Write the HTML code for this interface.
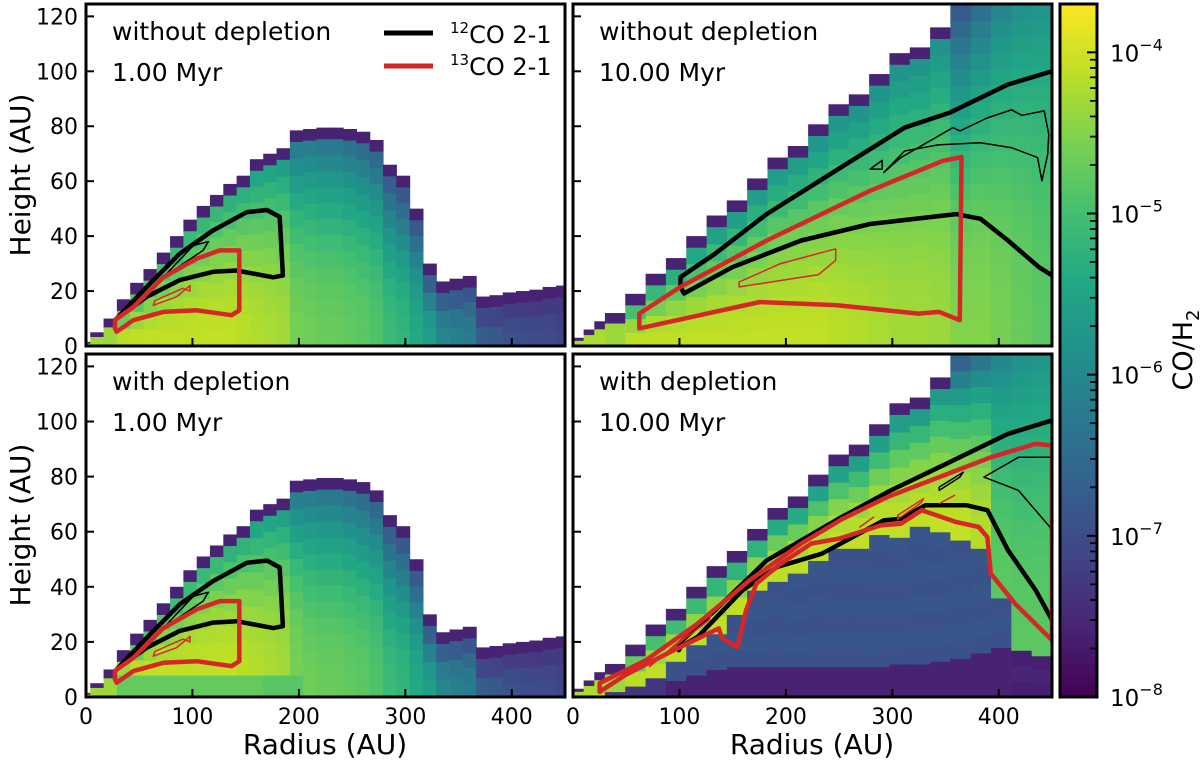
<!DOCTYPE html>
<html>
<head>
<meta charset="utf-8">
<style>
  html,body{margin:0;padding:0;background:#fff;}
  body{width:1200px;height:760px;overflow:hidden;font-family:"DejaVu Sans","Liberation Sans",sans-serif;}
  svg text{font-family:"DejaVu Sans","Liberation Sans",sans-serif;fill:#000;}
</style>
</head>
<body>
<svg id="fig" xmlns="http://www.w3.org/2000/svg" width="1200" height="760" viewBox="0 0 1200 760">
  <defs>
    <linearGradient id="viridis" x1="0" y1="1" x2="0" y2="0">
      <stop offset="0" stop-color="#440154"/>
      <stop offset="0.1" stop-color="#482475"/>
      <stop offset="0.2" stop-color="#414487"/>
      <stop offset="0.3" stop-color="#355f8d"/>
      <stop offset="0.4" stop-color="#2a788e"/>
      <stop offset="0.5" stop-color="#21918c"/>
      <stop offset="0.6" stop-color="#22a884"/>
      <stop offset="0.7" stop-color="#44bf70"/>
      <stop offset="0.8" stop-color="#7ad151"/>
      <stop offset="0.9" stop-color="#bddf26"/>
      <stop offset="1" stop-color="#fde725"/>
    </linearGradient>
  </defs>
</svg>
<script>
// ---------- data: 1 Myr grid (panels A & C) ----------
const radiusEdges1Myr = [0,4,16.5,29,41.5,54,66.5,79,91.5,104,116.5,129,141.5,154,166.5,179,191.5,204,216.5,229,241.5,254,266.5,279,291.5,304,316.5,329,341.5,354,366.5,379,391.5,404,416.5,429,441.5,450];
const columnTops1Myr = [1.5,5,10,17,23,28,34,40,46,51,55,59,62,68,70,72,78.5,79,79.5,79.5,79,78,75,66,62,50,30,23.5,24.5,25.5,18,18.5,19.5,20,20.5,21.5,22];
const midplaneLog1Myr = [-4.1,-4.1,-4.1,-4.1,-4.1,-4.1,-4.1,-4.1,-4.1,-4.1,-4.1,-4.1,-4.15,-4.2,-4.25,-4.3,-4.6,-4.65,-4.7,-4.7,-4.75,-4.8,-4.9,-5.1,-5.2,-5.4,-5.6,-6.0,-6.1,-6.2,-6.7,-6.8,-6.9,-6.95,-7.0,-7.0,-7.1];
const surfaceLog1Myr = [-5.2,-5.2,-5.2,-5.2,-5.2,-5.2,-5.2,-5.3,-5.3,-5.3,-5.3,-5.4,-5.4,-5.6,-5.6,-5.7,-6.3,-6.3,-6.4,-6.4,-6.5,-6.6,-6.7,-6.9,-7.0,-7.0,-7.0,-7.0,-7.1,-7.1,-7.4,-7.4,-7.4,-7.4,-7.4,-7.4,-7.4];
const lowHeight1MyrDepl = [0,0,0,8,8,8,8,8,8,8,8,8,8,8,8,8,8,0,0,0,0,0,0,0,0,0,0,0,0,0,0,0,0,0,0,0,0];
const lowLog1MyrDepl = [0,0,0,-4.7,-4.7,-4.7,-4.7,-4.7,-4.7,-4.7,-4.7,-4.7,-4.7,-4.7,-4.8,-4.8,-4.8,0,0,0,0,0,0,0,0,0,0,0,0,0,0,0,0,0,0,0,0];

// ---------- data: 10 Myr grid (panels B & D) ----------
const radiusEdges10Myr = [0,10,20,30,49.1,68.2,87.3,106.4,125.5,144.5,163.6,182.7,201.8,220.9,240,259.1,278.2,297.3,316.4,335.5,354.5,373.6,392.7,411.8,430.9,450];
const columnTops10Myr = [3,6,9,12,19,26.3,32,40,47.5,53,61,68.6,72.8,80.7,88,91.6,99,106.6,108.7,116,124.5,124.5,124.5,124.5,124.5];
const midplaneLog10Myr = [-4.1,-4.1,-4.1,-4.1,-4.1,-4.1,-4.1,-4.1,-4.1,-4.1,-4.1,-4.1,-4.1,-4.1,-4.15,-4.2,-4.25,-4.3,-4.3,-4.35,-4.5,-4.5,-4.6,-4.7,-4.8];
const surfaceLog10Myr = [-4.8,-4.8,-4.8,-5.2,-5.4,-5.5,-5.6,-5.7,-5.8,-5.8,-5.8,-5.8,-5.8,-5.9,-5.9,-5.9,-5.9,-5.9,-5.9,-5.9,-6.9,-6.5,-6.1,-5.9,-5.8];
const midLog10MyrDepl = [-4.1,-4.1,-4.1,-4.1,-4.1,-4.1,-4.1,-4.1,-4.1,-4.1,-4.1,-4.1,-4.1,-4.1,-4.1,-4.1,-4.1,-4.1,-4.1,-4.1,-4.1,-4.2,-4.8,-4.8,-4.8];
const surfLog10MyrDepl = [-4.8,-4.8,-4.8,-5.2,-5.3,-5.4,-5.5,-5.6,-5.7,-5.8,-5.8,-5.8,-5.8,-5.9,-5.9,-5.9,-5.9,-5.9,-5.9,-5.9,-6.9,-6.5,-6.1,-5.9,-5.8];
const depletedTop10Myr = [0,0,0,2,4,7,13,19,23,30,38.8,42,45,49.6,54,54,59,58,62,60,57,54,36,17,15];
const depletedLog10Myr = [0,0,0,-7.3,-7.3,-7.3,-6.9,-6.9,-6.9,-6.9,-6.9,-6.9,-6.9,-6.9,-6.9,-6.9,-6.9,-6.9,-6.9,-6.9,-6.9,-6.9,-6.9,-7.6,-7.6];
const floorTop10Myr = [0,0,0,0,0,0,6,8,10,11,11,11,11,11,11,11,11,12,12,13,14,16,18,0,0];
const floorLog10Myr = -7.6;

// ---------- contours (radius AU, height AU) ----------
const co12_A_thick = [[28.8,10],[57,21.5],[88,33.6],[119,42],[151,48.7],[170,49.5],[182,47],[185,25.7],[176,25],[141.5,27.5],[119.5,27],[88,24],[57,17.9],[28.8,10]];
const co12_A_thin = [[72.6,25],[100.8,36.6],[114.9,38],[110,34.8],[75,25.7],[72.6,25]];
const co13_A_thick = [[27.2,6.4],[27.2,9.5],[44.4,14.2],[72.6,25],[104,31.8],[125.8,34.8],[144,34.8],[144,13],[136.8,11.2],[104,13],[72.6,12.4],[44.4,9.4],[28.8,5.2],[27.2,6.4]];
const co13_A_thin = [[63.2,14.8],[85,17.9],[97.7,22],[97.7,20],[91,21],[64.6,16.5],[63.2,14.8]];

const co12_B_thick = [[450,100],[408.7,95.2],[353.7,84.9],[311.5,79.5],[246.8,63.8],[182,48],[133.5,33.6],[101,25.1],[101,21.5],[104.3,19.1],[149.7,28.7],[214.5,38.4],[279,44.4],[360,48],[382.8,46.3],[408.7,38.4],[437.8,28.7],[450,25.7]];
const co12_B_thin = [[292,63.2],[308,68.6],[357,79.5],[363.5,78.3],[389,83],[412,86],[421.6,84],[442.7,85.6],[447,77],[446,69.8],[440.5,60.1],[436.5,68.6],[412,72.2],[382.8,74],[343,73.2],[311.5,71],[292,63.2]];
const co12_B_tri = [[279.2,64.4],[290.5,67.6],[290.5,64.4],[279.2,64.4]];
const co13_B_thick = [[62.3,11.8],[62.3,6.4],[175.6,16],[246.8,14.9],[324.5,11.8],[344,12.4],[363.4,9.4],[365,68.8],[347,67.4],[279,56.5],[182,38.4],[101,21.5],[62.3,11.8]];
const co13_B_thin = [[156,21.5],[156,23.3],[195,30],[246.8,35.4],[246.8,31.2],[230.6,26],[156,21.5]];

const co12_D_thick = [[450,100.4],[408.7,95.5],[344,83.4],[298.6,75],[246.8,64.1],[182,49.6],[133.5,31.5],[99.5,19.4],[99.5,17],[101,18.2],[117.3,21.9],[159.4,38.8],[191.7,47.2],[233.8,52],[292,64.1],[308,64.7],[331,69.6],[369.8,69.6],[389.3,67.8],[408.7,53.3],[434.6,38.8],[450,27.9]];
const co12_D_thin = [[450,87],[418.4,87],[386,79.8],[418.4,75],[448,61.7],[450,58]];
const co12_D_loop = [[344,76.2],[366.6,81.6],[363.5,79.8],[344,75],[344,76.2]];
const co13_D_thick = [[25,1.9],[25,5],[68.7,13.4],[117.3,26.7],[166,42.4],[214.5,55.7],[253.3,64.7],[295.4,72.6],[344,79.8],[392.5,87],[434.6,91.9],[450,91.3],[450,20.6],[415.2,33.9],[392.5,44.8],[389.3,58],[381.2,61.7],[360.2,63.5],[327.7,67.8],[308,62.9],[289,62.3],[269.5,59.9],[250,57.5],[224,55.7],[195,48.4],[172.4,41.2],[162.6,31.5],[154.5,18.2],[140,21.3],[137,24.9],[94.6,17],[49.3,8],[25,1.9]];
const co13_D_thin1 = [[72,11],[130.2,30.3],[128,28],[74,12],[72,11]];
const co13_D_thin2 = [[269.5,61.7],[282.4,65.3]];
const co13_D_thin3 = [[305,66],[329.4,72],[327,70.5],[305,64.5],[305,66]];
const co13_D_thin4 = [[344,70.2],[358.5,73.2]];

// colorbar ticks
const cbMajorExp = [-4,-5,-6,-7,-8];
const yTickVals = [0,20,40,60,80,100,120];
const xTickVals = [0,100,200,300,400];

// ---------- helpers ----------
const NS = 'http://www.w3.org/2000/svg';
const svg = document.getElementById('fig');
const VMIN = -8, VMAX = -3.7, RMAX = 450, ZMAX = 124.5;
const vstops = [[0,[68,1,84]],[0.1,[72,36,117]],[0.2,[65,68,135]],[0.3,[53,95,141]],[0.4,[42,120,142]],[0.5,[33,145,140]],[0.6,[34,168,132]],[0.7,[68,191,112]],[0.8,[122,209,81]],[0.9,[189,223,38]],[1,[253,231,37]]];
function viridis(v){
  let t = (v - VMIN) / (VMAX - VMIN); t = Math.max(0, Math.min(1, t));
  for (let i = 0; i < vstops.length - 1; i++){
    const a = vstops[i], b = vstops[i+1];
    if (t <= b[0]){
      const f = (t - a[0]) / (b[0] - a[0]);
      const c = a[1].map((x, k) => Math.round(x + (b[1][k] - x) * f));
      return 'rgb(' + c.join(',') + ')';
    }
  }
  return 'rgb(253,231,37)';
}
function mk(tag, attrs, parent){
  const e = document.createElementNS(NS, tag);
  for (const k in attrs) e.setAttribute(k, attrs[k]);
  (parent || svg).appendChild(e);
  return e;
}
function xs(p, r){ return p.x0 + r * p.w / RMAX; }
function ys(p, z){ return p.y0 + p.h - z * p.h / ZMAX; }

const panels = [
  {id:'a', x0:86, y0:4, w:479, h:342, label1:'without depletion', label2:'1.00 Myr',
   edges:radiusEdges1Myr, tops:columnTops1Myr, mid:midplaneLog1Myr, surf:surfaceLog1Myr, lowH:null, lowV:null, floorH:null,
   contours:[[co12_A_thick,'#000',4.5],[co12_A_thin,'#000',1.5],[co13_A_thick,'#d62728',4.5],[co13_A_thin,'#d62728',1.5]], yLabels:true, xLabels:false},
  {id:'b', x0:573, y0:4, w:479, h:342, label1:'without depletion', label2:'10.00 Myr',
   edges:radiusEdges10Myr, tops:columnTops10Myr, mid:midplaneLog10Myr, surf:surfaceLog10Myr, lowH:null, lowV:null, floorH:null,
   contours:[[co12_B_thick,'#000',4.5],[co12_B_thin,'#000',1.5],[co12_B_tri,'#000',1.5],[co13_B_thick,'#d62728',4.5],[co13_B_thin,'#d62728',1.5]], yLabels:false, xLabels:false},
  {id:'c', x0:86, y0:354, w:479, h:343, label1:'with depletion', label2:'1.00 Myr',
   edges:radiusEdges1Myr, tops:columnTops1Myr, mid:midplaneLog1Myr, surf:surfaceLog1Myr, lowH:lowHeight1MyrDepl, lowV:lowLog1MyrDepl, floorH:null,
   contours:[[co12_A_thick,'#000',4.5],[co12_A_thin,'#000',1.5],[co13_A_thick,'#d62728',4.5],[co13_A_thin,'#d62728',1.5]], yLabels:true, xLabels:true},
  {id:'d', x0:573, y0:354, w:479, h:343, label1:'with depletion', label2:'10.00 Myr',
   edges:radiusEdges10Myr, tops:columnTops10Myr, mid:midLog10MyrDepl, surf:surfLog10MyrDepl, lowH:depletedTop10Myr, lowV:depletedLog10Myr, floorH:floorTop10Myr,
   contours:[[co12_D_thick,'#000',4.5],[co12_D_thin,'#000',1.5],[co12_D_loop,'#000',1.5],[co13_D_thick,'#d62728',4.5],[co13_D_thin1,'#d62728',1.5],[co13_D_thin2,'#d62728',1.5],[co13_D_thin3,'#d62728',1.5],[co13_D_thin4,'#d62728',1.5]], yLabels:false, xLabels:true}
];

panels.forEach(function(p){
  const clip = mk('clipPath', {id:'clip-' + p.id}, svg.querySelector('defs'));
  mk('rect', {x:p.x0, y:p.y0, width:p.w, height:p.h}, clip);
  const g = mk('g', {'clip-path':'url(#clip-' + p.id + ')'});
  
  

  function cell(r0, r1, z0, z1, v){
    if (z1 <= z0) return;
    const x0 = xs(p, r0), x1 = xs(p, r1), y0 = ys(p, z1), y1 = ys(p, z0);
    const c = mk('rect', {x:x0.toFixed(2), y:y0.toFixed(2), width:(x1 - x0 + 0.6).toFixed(2), height:(y1 - y0 + 0.6).toFixed(2), fill:viridis(v)}, g);
    
    
  }

  for (let i = 0; i < p.tops.length; i++){
    const r0 = p.edges[i], r1 = p.edges[i+1], T = p.tops[i];
    let base = 0;
    if (p.lowH && p.lowH[i] > 0){
      const lh = Math.min(p.lowH[i], T);
      const fh = p.floorH ? Math.min(p.floorH[i], lh) : 0;
      if (fh > 0) cell(r0, r1, 0, fh, floorLog10Myr);
      const nLow = Math.max(1, Math.round((lh - fh) / 6));
      for (let k = 0; k < nLow; k++) cell(r0, r1, fh + (lh - fh) * k / nLow, fh + (lh - fh) * (k + 1) / nLow, p.lowV[i] + (k % 2 ? 0.05 : -0.03));
      base = lh;
    }
    const clipped = T >= ZMAX - 0.1;
    const edgeH = clipped ? 0 : Math.min(4, T * 0.3);
    const edgeStart = T - edgeH;
    if (edgeStart > base){
      const n = Math.max(1, Math.round((edgeStart - base) / 6));
      for (let k = 0; k < n; k++){
        const za = base + (edgeStart - base) * k / n, zb = base + (edgeStart - base) * (k + 1) / n;
        const f = Math.pow((k + 0.5) / n, 2.2);
        cell(r0, r1, za, zb, p.mid[i] + (p.surf[i] - p.mid[i]) * f);
      }
    }
    if (edgeH > 0) cell(r0, r1, edgeStart, T, -7.6);
  }

  // contours
  p.contours.forEach(function(c){
    const pts = c[0].map(function(q){ return xs(p, q[0]).toFixed(1) + ',' + ys(p, q[1]).toFixed(1); }).join(' ');
    const pl = mk('polyline', {points:pts, fill:'none', stroke:c[1], 'stroke-width':c[2], 'stroke-linejoin':'round', 'stroke-linecap':'round'}, g);
    
    
  });

  // ticks
  yTickVals.forEach(function(v){
    const y = ys(p, v);
    const t = mk('line', {x1:p.x0, x2:p.x0 + 8, y1:y, y2:y, stroke:'#000', 'stroke-width':2});
    
    
    if (p.yLabels){
      const tl = mk('text', {x:p.x0 - 8, y:y + 8, 'text-anchor':'end', 'font-size':22});
      tl.textContent = v;
      
      
    }
  });
  xTickVals.forEach(function(v){
    const x = xs(p, v);
    const t = mk('line', {x1:x, x2:x, y1:p.y0 + p.h, y2:p.y0 + p.h - 8, stroke:'#000', 'stroke-width':2});
    
    
    if (p.xLabels){
      const tl = mk('text', {x:x, y:p.y0 + p.h + 27, 'text-anchor':'middle', 'font-size':22});
      tl.textContent = v;
      
      
    }
  });

  // frame
  const fr = mk('rect', {x:p.x0, y:p.y0, width:p.w, height:p.h, fill:'none', stroke:'#000', 'stroke-width':3});
  
  

  const t1 = mk('text', {x:p.x0 + 26, y:p.y0 + 36, 'font-size':25});
  t1.textContent = p.label1;
  
  
  const t2 = mk('text', {x:p.x0 + 26, y:p.y0 + 77, 'font-size':25});
  t2.textContent = p.label2;
  
  
});

// legend (panel a)
const lg = mk('g', {});


const l1 = mk('line', {x1:384, x2:433, y1:33, y2:33, stroke:'#000', 'stroke-width':5}, lg);


const lt1 = mk('text', {x:450, y:43, 'font-size':24}, lg);
lt1.innerHTML = '<tspan font-size="15" dy="-10">12</tspan><tspan dy="10">CO 2-1</tspan>';


const l2 = mk('line', {x1:384, x2:433, y1:66, y2:66, stroke:'#d62728', 'stroke-width':5}, lg);


const lt2 = mk('text', {x:450, y:75, 'font-size':24}, lg);
lt2.innerHTML = '<tspan font-size="15" dy="-10">13</tspan><tspan dy="10">CO 2-1</tspan>';



// axis titles
const yt1 = mk('text', {x:0, y:0, 'font-size':28, 'text-anchor':'middle', transform:'translate(30,175) rotate(-90)'});
yt1.textContent = 'Height (AU)';


const yt2 = mk('text', {x:0, y:0, 'font-size':28, 'text-anchor':'middle', transform:'translate(30,525) rotate(-90)'});
yt2.textContent = 'Height (AU)';


const xt1 = mk('text', {x:325, y:754, 'font-size':28, 'text-anchor':'middle'});
xt1.textContent = 'Radius (AU)';


const xt2 = mk('text', {x:812, y:754, 'font-size':28, 'text-anchor':'middle'});
xt2.textContent = 'Radius (AU)';



// colorbar
const CB = {x:1060, y0:4, y1:697, w:37};
function cby(v){ return CB.y1 - (v - VMIN) / (VMAX - VMIN) * (CB.y1 - CB.y0); }
const cbr = mk('rect', {x:CB.x, y:CB.y0, width:CB.w, height:CB.y1 - CB.y0, fill:'url(#viridis)', stroke:'#000', 'stroke-width':3});


cbMajorExp.forEach(function(e){
  const y = cby(e);
  const t = mk('line', {x1:CB.x + CB.w - 10, x2:CB.x + CB.w, y1:y, y2:y, stroke:'#000', 'stroke-width':2});
  
  
  const tl = mk('text', {x:CB.x + CB.w + 13, y:y + 9, 'font-size':23});
  tl.innerHTML = '10<tspan font-size="16" dy="-11">\u2212' + (-e) + '</tspan>';
  
  
  for (let m = 2; m <= 9; m++){
    const v = e - 1 + Math.log10(m);
    if (v < VMIN || v > VMAX) continue;
    const ym = cby(v);
    const mt = mk('line', {x1:CB.x + CB.w - 7, x2:CB.x + CB.w, y1:ym, y2:ym, stroke:'#000', 'stroke-width':1.8});
    
    
  }
});
{
  const v = -4 + Math.log10(2);
  const mt = mk('line', {x1:CB.x + CB.w - 7, x2:CB.x + CB.w, y1:cby(v), y2:cby(v), stroke:'#000', 'stroke-width':1.8});
  
  
}
const cbt = mk('text', {x:0, y:0, 'font-size':27, 'text-anchor':'middle', transform:'translate(1192,350) rotate(-90)'});
cbt.innerHTML = 'CO/H<tspan font-size="18" dy="7">2</tspan>';


</script>
</body>
</html>
